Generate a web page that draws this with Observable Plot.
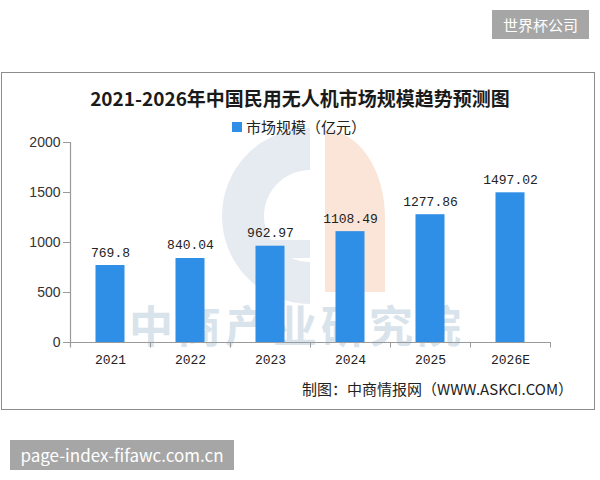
<!DOCTYPE html>
<html>
<head>
<meta charset="utf-8">
<script src="https://cdn.jsdelivr.net/npm/d3@7"></script>
<script src="https://cdn.jsdelivr.net/npm/@observablehq/plot@0.6"></script>
<style>
  html, body { margin: 0; padding: 0; background: #fff; }
  body { width: 600px; height: 480px; position: relative; overflow: hidden; font-family: "Noto Sans CJK SC", "Noto Sans", sans-serif; }
  .abs { position: absolute; }
  #frame { left: 1px; top: 72px; width: 592px; height: 336px; border: 1px solid #8c8c8c; }
  #title { left: 0; width: 600px; top: 86px; line-height: 24px; text-align: center; font-size: 19px; font-weight: bold; color: #1a1a1a; }
  #legend { left: 232px; top: 117px; line-height: 20px; font-size: 15px; color: #222; display: flex; align-items: center; }
  #legend .sw { width: 10px; height: 10px; margin-right: 4px; }
  #caption { left: 302px; top: 379px; line-height: 20px; font-size: 15px; color: #222; white-space: nowrap; }
  #wm { left: -3px; width: 600px; top: 306px; height: 36px; line-height: 36px; overflow: visible; text-align: center; font-size: 44px; font-weight: bold; color: #d9e3eb; letter-spacing: 4px; }
  #chart { left: 0; top: 130px; }
  .badge { background: #a6a6a6; color: #fff; white-space: nowrap; }
  #b1 { left: 492px; top: 10px; width: 97px; height: 29px; line-height: 29px; text-align: center; font-size: 15px; }
  #b2 { left: 10px; top: 440px; width: 224px; height: 30px; line-height: 30px; font-size: 17px; text-align: center; }
</style>
</head>
<body>
<script>
// ---- data ----
const years = ["2021", "2022", "2023", "2024", "2025", "2026E"];
const values = [769.8, 840.04, 962.97, 1108.49, 1277.86, 1497.02];
const valueLabels = ["769.8", "840.04", "962.97", "1108.49", "1277.86", "1497.02"];
const yTicks = [0, 500, 1000, 1500, 2000];
const seriesName = "市场规模（亿元）";
const titleText = "2021-2026年中国民用无人机市场规模趋势预测图";
const captionText = "制图：中商情报网（WWW.ASKCI.COM）";
const watermarkText = "中商产业研究院";
const badgeTop = "世界杯公司";
const badgeBottom = "page-index-fifawc.com.cn";

const barColor = "#2f8fe6";
const axisColor = "#9a9a9a";

const rows = years.map((y, i) => ({year: y, value: values[i], label: valueLabels[i]}));

function add(id, cls, text) {
  const d = document.createElement("div");
  d.id = id; d.className = cls; if (text != null) d.textContent = text;
  document.body.appendChild(d); return d;
}

// frame
add("frame", "abs");

// watermark logo (decorative)
const ns = "http://www.w3.org/2000/svg";
const logo = document.createElementNS(ns, "svg");
logo.setAttribute("width", 600); logo.setAttribute("height", 480);
logo.style.position = "absolute"; logo.style.left = "0"; logo.style.top = "0";
logo.innerHTML = `
  <path d="M310,128 A88,88 0 0 0 310,304 L310,262 A46,46 0 0 1 310,170 Z" fill="#e5ebf0"/>
  <rect x="258" y="240" width="52" height="18" fill="#e5ebf0"/>
  <path d="M325,130 A60,88 0 0 1 385,218 L385,292 L325,292 Z" fill="#fae5d8"/>
`;
document.body.appendChild(logo);
add("wm", "abs", watermarkText);

// title & legend
add("title", "abs", titleText);
const lg = add("legend", "abs");
const sw = document.createElement("span"); sw.className = "sw"; sw.style.background = barColor;
const lt = document.createElement("span"); lt.textContent = seriesName;
lg.appendChild(sw); lg.appendChild(lt);

// chart
const chart = Plot.plot({
  width: 600,
  height: 242,
  marginLeft: 70,
  marginRight: 50,
  marginTop: 12,
  marginBottom: 30,
  style: {background: "transparent", color: "#333", overflow: "visible"},
  x: {domain: years, padding: 0, label: null},
  y: {domain: [0, 2000], label: null},
  marks: [
    Plot.barY(rows, {x: "year", y: "value", fill: barColor, insetLeft: 25.5, insetRight: 25.5}),
    Plot.text(rows, {x: "year", y: "value", text: "label", dy: -9, lineAnchor: "bottom",
      fontFamily: "Liberation Mono", fontSize: 13, fill: "#222"}),
    Plot.ruleY([0], {stroke: axisColor, strokeWidth: 1.2}),
    Plot.ruleX([years[0]], {dx: -40, y1: -55, y2: 2000, stroke: axisColor, strokeWidth: 1.2}),
    Plot.ruleX(years, {dx: 40, y1: 0, y2: -55, stroke: axisColor}),
    Plot.axisY({ticks: yTicks, tickSize: 7, tickPadding: 3, tickFormat: d => String(d),
      fontSize: 14, fontFamily: "Liberation Sans", stroke: axisColor, fill: "#333", label: null}),
    Plot.axisX({tickSize: 0, tickPadding: 12, fontSize: 13, fontFamily: "Liberation Mono", fill: "#222", label: null})
  ]
});
chart.id = "chart";
chart.style.position = "absolute";
document.body.appendChild(chart);

// caption
add("caption", "abs", captionText);

// badges
add("b1", "abs badge", badgeTop);
add("b2", "abs badge", badgeBottom);
</script>
</body>
</html>
